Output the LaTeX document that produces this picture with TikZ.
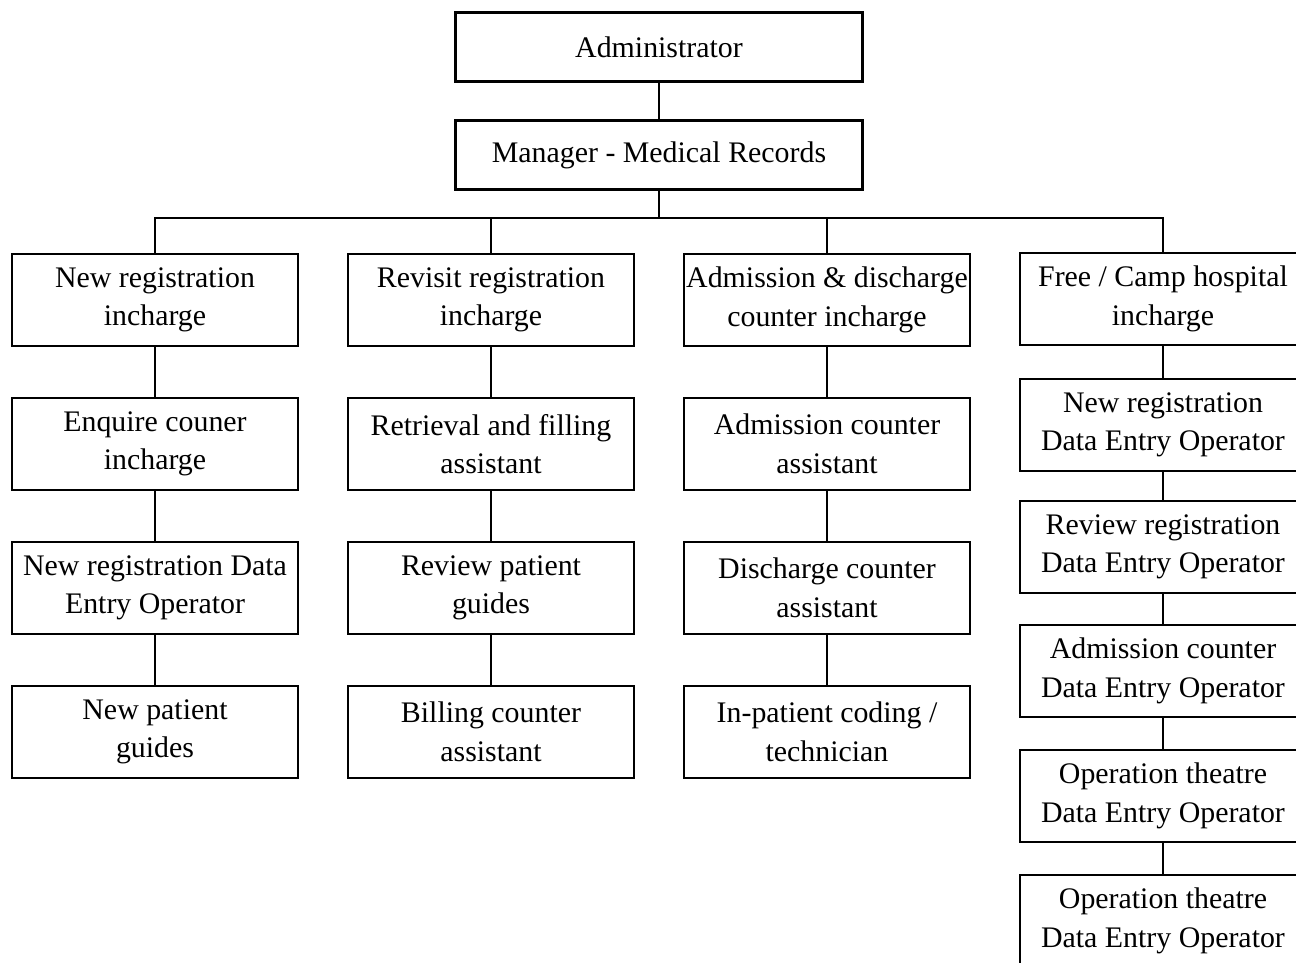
\documentclass[tikz,border=0pt]{standalone}
\usepackage{fontspec}
\setmainfont{Liberation Serif}
\usepackage{tikz}

\begin{document}
\begin{tikzpicture}[x=0.02cm, y=-0.02cm, line width=1.3pt,
                    box/.style={draw, align=center, inner xsep=0pt, minimum width=5.72cm, minimum height=1.84cm,
                                font=\fontsize{17}{22}\selectfont},
                    topbox/.style={box, minimum width=8.14cm, minimum height=1.38cm}]
                              \useasboundingbox (0,0) rectangle (1296,963);
                              \clip (0,0) rectangle (1296,963);

                              \node[topbox] (admin) at (659,47) {Administrator};
                              \node[topbox] (mgr) at (659,155) {Manager - Medical Records};
                              \coordinate (bus) at (659,218);

                              \node[box] (N1) at (155,300) {New registration\\incharge};
                              \node[box] (N2) at (155,444) {Enquire couner\\incharge};
                              \node[box] (N3) at (155,588) {New registration Data\\Entry Operator};
                              \node[box] (N4) at (155,732) {New patient\\guides};

                              \node[box] (R1) at (491,300) {Revisit registration\\incharge};
                              \node[box] (R2) at (491,444) {Retrieval and filling\\assistant};
                              \node[box] (R3) at (491,588) {Review patient\\guides};
                              \node[box] (R4) at (491,732) {Billing counter\\assistant};

                              \node[box] (A1) at (827,300) {Admission \& discharge\\counter incharge};
                              \node[box] (A2) at (827,444) {Admission counter\\assistant};
                              \node[box] (A3) at (827,588) {Discharge counter\\assistant};
                              \node[box] (A4) at (827,732) {In-patient coding /\\technician};

                              \node[box] (F1) at (1163,299) {Free / Camp hospital\\incharge};
                              \node[box] (F2) at (1163,425) {New registration\\Data Entry Operator};
                              \node[box] (F3) at (1163,547) {Review registration\\Data Entry Operator};
                              \node[box] (F4) at (1163,671) {Admission counter\\Data Entry Operator};
                              \node[box] (F5) at (1163,796) {Operation theatre\\Data Entry Operator};
                              \node[box] (F6) at (1163,921) {Operation theatre\\Data Entry Operator};

                              \draw (admin) -- (mgr);
                              \draw (mgr) -- (bus);
                              \draw (bus) -| (N1);
                              \draw (bus) -| (R1);
                              \draw (bus) -| (A1);
                              \draw (bus) -| (F1);

                              \draw (N1) -- (N2);
                              \draw (N2) -- (N3);
                              \draw (N3) -- (N4);
                              \draw (R1) -- (R2);
                              \draw (R2) -- (R3);
                              \draw (R3) -- (R4);
                              \draw (A1) -- (A2);
                              \draw (A2) -- (A3);
                              \draw (A3) -- (A4);
                              \draw (F1) -- (F2);
                              \draw (F2) -- (F3);
                              \draw (F3) -- (F4);
                              \draw (F4) -- (F5);
                              \draw (F5) -- (F6);
                      \end{tikzpicture}
\end{document}
